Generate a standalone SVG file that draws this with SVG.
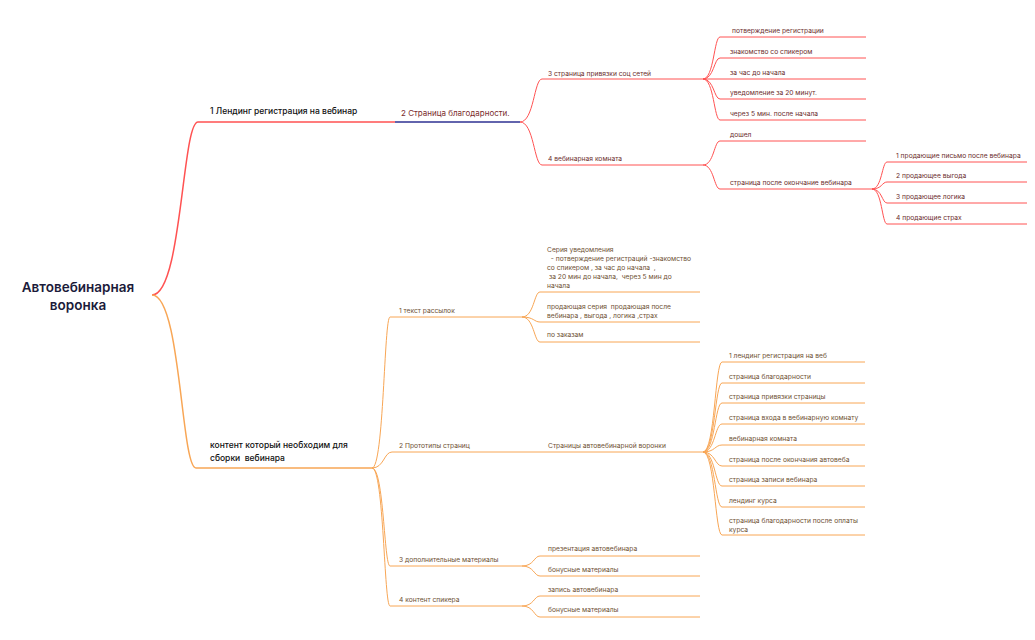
<svg xmlns="http://www.w3.org/2000/svg" width="1035" height="640" viewBox="0 0 1035 640">
<style>
text{font-family:"Inter","Noto Sans","Liberation Sans",sans-serif}
.root{font-size:13.5px;font-weight:600;fill:#1b1b3a;text-anchor:middle}
.main{font-size:8.5px;font-weight:500;fill:#111}
.r2{font-size:8px;fill:#7b2c2c}
.rt{font-size:6.7px;fill:#6b2d2d}
.ot{font-size:6.7px;fill:#6e5033}
.red{fill:none;stroke:#ff5252;stroke-width:1}
.redb{fill:none;stroke:#ff5252;stroke-width:1.5}
.blue{fill:none;stroke:#2e3192;stroke-width:1.5}
.or{fill:none;stroke:#f8a655;stroke-width:1}
.orb{fill:none;stroke:#f8a655;stroke-width:1.5}
</style>
<rect width="1035" height="640" fill="#fff"/>
<g id="connectors">
<path class="redb" d="M152,295 C182,295 182,122 198,122 H395"/>
<path class="blue" d="M395,122 H520"/>
<path class="red" d="M520,122 C534,122 534,79 542,79 H703"/>
<path class="red" d="M520,122 C534,122 534,165 542,165 H703"/>
<path class="red" d="M703,79 C714,79 714,37 720,37 H866"/>
<path class="red" d="M703,79 C714,79 714,58 720,58 H866"/>
<path class="red" d="M703,79 H866"/>
<path class="red" d="M703,79 C714,79 714,99 720,99 H866"/>
<path class="red" d="M703,79 C714,79 714,120 720,120 H866"/>
<path class="red" d="M703,165 C714,165 714,141 720,141 H866"/>
<path class="red" d="M703,165 C714,165 714,189 720,189 H872"/>
<path class="red" d="M872,189 C882,189 882,162 887,162 H1027"/>
<path class="red" d="M872,189 C882,189 882,182 887,182 H1027"/>
<path class="red" d="M872,189 C882,189 882,203 887,203 H1027"/>
<path class="red" d="M872,189 C882,189 882,224 887,224 H1027"/>
<path class="orb" d="M152,295 C181,295 181,468 196,468 H372"/>
<path class="or" d="M372,468 C384,468 384,317 390,317 H522"/>
<path class="or" d="M372,468 C384,468 384,452 392,452 H703"/>
<path class="or" d="M372,468 C384,468 384,566 390,566 H522"/>
<path class="or" d="M372,468 C384,468 384,606 390,606 H522"/>
<path class="or" d="M522,317 C534,317 534,292 540,292 H700"/>
<path class="or" d="M522,317 C534,317 534,322 540,322 H700"/>
<path class="or" d="M522,317 C534,317 534,342 540,342 H700"/>
<path class="or" d="M703,452 C715,452 715,362 722,362 H865"/>
<path class="or" d="M703,452 C715,452 715,383 722,383 H865"/>
<path class="or" d="M703,452 C715,452 715,403 722,403 H865"/>
<path class="or" d="M703,452 C715,452 715,424 722,424 H865"/>
<path class="or" d="M703,452 C715,452 715,445 722,445 H865"/>
<path class="or" d="M703,452 C715,452 715,466 722,466 H865"/>
<path class="or" d="M703,452 C715,452 715,486 722,486 H865"/>
<path class="or" d="M703,452 C715,452 715,507 722,507 H865"/>
<path class="or" d="M703,452 C715,452 715,535 722,535 H865"/>
<path class="or" d="M522,566 C534,566 534,556 540,556 H700"/>
<path class="or" d="M522,566 C534,566 534,576 540,576 H700"/>
<path class="or" d="M522,606 C534,606 534,596 540,596 H700"/>
<path class="or" d="M522,606 C534,606 534,617 540,617 H700"/>
</g>
<g id="root"><text class="root" x="78" y="292">Автовебинарная</text><text class="root" x="78" y="310">воронка</text></g>
<g id="n-landing"><text class="main" x="210" y="114">1 Лендинг регистрация на вебинар</text></g>
<g id="n-thanks"><text class="r2" x="401" y="116">2 Страница благодарности.</text></g>
<g id="n-social"><text class="rt" x="548" y="75.5">3 страница привязки соц сетей</text></g>
<g id="n-room"><text class="rt" x="548" y="161">4 вебинарная комната</text></g>
<g id="n-s1"><text class="rt" x="732" y="33">потверждение регистрации</text></g>
<g id="n-s2"><text class="rt" x="730" y="54">знакомство со спикером</text></g>
<g id="n-s3"><text class="rt" x="730" y="75">за час до начала</text></g>
<g id="n-s4"><text class="rt" x="730" y="95">уведомление за 20 минут.</text></g>
<g id="n-s5"><text class="rt" x="730" y="116">через 5 мин. после начала</text></g>
<g id="n-came"><text class="rt" x="730" y="137">дошел</text></g>
<g id="n-after"><text class="rt" x="730" y="185">страница после окончание вебинара</text></g>
<g id="n-p1"><text class="rt" x="896" y="158">1 продающие письмо после вебинара</text></g>
<g id="n-p2"><text class="rt" x="896" y="178">2 продающее выгода</text></g>
<g id="n-p3"><text class="rt" x="896" y="199">3 продающее логика</text></g>
<g id="n-p4"><text class="rt" x="896" y="220">4 продающие страх</text></g>
<g id="n-content"><text class="main" x="210" y="448">контент который необходим для</text><text class="main" x="210" y="461" xml:space="preserve">сборки  вебинара</text></g>
<g id="n-mail"><text class="ot" x="399" y="313">1 текст рассылок</text></g>
<g id="n-series"><text class="ot" xml:space="preserve"><tspan x="547" y="251.5">Серия уведомления</tspan><tspan x="547" y="260.5">  - потверждение регистраций -знакомство</tspan><tspan x="547" y="269.5">со спикером , за час до начала  ,</tspan><tspan x="547" y="278.5"> за 20 мин до начала,  через 5 мин до</tspan><tspan x="547" y="287.5">начала</tspan></text></g>
<g id="n-sales"><text class="ot" xml:space="preserve"><tspan x="547" y="309">продающая серия  продающая после</tspan><tspan x="547" y="318">вебинара , выгода , логика ,страх</tspan></text></g>
<g id="n-order"><text class="ot" x="547" y="337">по заказам</text></g>
<g id="n-proto"><text class="ot" x="399" y="448">2 Прототипы страниц</text></g>
<g id="n-pages"><text class="ot" x="548" y="448">Страницы автовебинарной воронки</text></g>
<g id="n-pg1"><text class="ot" x="729" y="358">1 лендинг регистрация на веб</text></g>
<g id="n-pg2"><text class="ot" x="729" y="379">страница благодарности</text></g>
<g id="n-pg3"><text class="ot" x="729" y="399">страница привязки страницы</text></g>
<g id="n-pg4"><text class="ot" x="729" y="420">страница входа в вебинарную комнату</text></g>
<g id="n-pg5"><text class="ot" x="729" y="441">вебинарная комната</text></g>
<g id="n-pg6"><text class="ot" x="729" y="462">страница после окончания автовеба</text></g>
<g id="n-pg7"><text class="ot" x="729" y="482">страница записи вебинара</text></g>
<g id="n-pg8"><text class="ot" x="729" y="503">лендинг курса</text></g>
<g id="n-pg9"><text class="ot"><tspan x="729" y="522.5">страница благодарности после оплаты</tspan><tspan x="729" y="531.5">курса</tspan></text></g>
<g id="n-extra"><text class="ot" x="399" y="562">3 дополнительные материалы</text></g>
<g id="n-pres"><text class="ot" x="548" y="551">презентация автовебинара</text></g>
<g id="n-bonus1"><text class="ot" x="548" y="572">бонусные материалы</text></g>
<g id="n-speaker"><text class="ot" x="399" y="602">4 контент спикера</text></g>
<g id="n-rec"><text class="ot" x="548" y="592">запись автовебинара</text></g>
<g id="n-bonus2"><text class="ot" x="548" y="612">бонусные материалы</text></g>
</svg>
